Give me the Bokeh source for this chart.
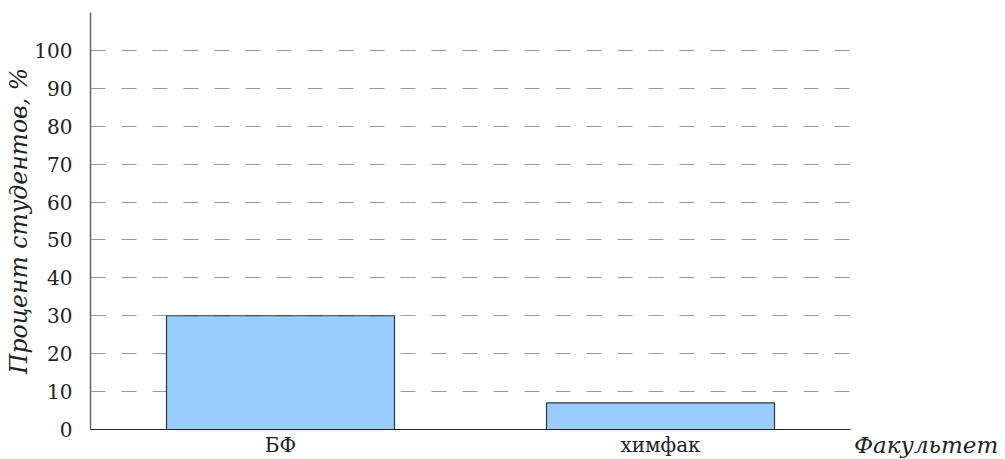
from bokeh.plotting import figure
from bokeh.models import FactorRange, Range1d, FixedTicker, Legend, LegendItem, ColumnDataSource
from bokeh.embed import file_html
from bokeh.resources import INLINE

categories = ["БФ", "химфак"]
values = [30, 7]
y_ticks = [0, 10, 20, 30, 40, 50, 60, 70, 80, 90, 100]
x_title = "Факультет"
y_title = "Процент студентов, %"

FONT = "DejaVu Serif"

p = figure(frame_width=760, frame_height=417, x_range=FactorRange(*categories, range_padding=0),
           y_range=Range1d(0, 110), output_backend="svg", toolbar_location=None,
           min_border_left=90, min_border_right=155, min_border_top=12, min_border_bottom=0)
p.outline_line_color = None

src = ColumnDataSource(dict(cat=categories, val=values))
p.vbar(x="cat", top="val", width=0.6, source=src, fill_color="#99ccff",
       line_color="#333333", line_width=1.2)

p.xgrid.grid_line_color = None
p.ygrid.ticker = FixedTicker(ticks=y_ticks[1:])
p.ygrid.grid_line_color = "#999999"
p.ygrid.grid_line_width = 1.2
p.ygrid.grid_line_dash = "15 16"

p.yaxis.ticker = FixedTicker(ticks=y_ticks)
p.yaxis.axis_line_color = "#666666"
p.yaxis.axis_line_width = 1.5
p.yaxis.major_tick_line_color = None
p.yaxis.minor_tick_line_color = None
p.yaxis.major_label_text_font = FONT
p.yaxis.major_label_text_font_size = "20px"
p.yaxis.major_label_text_color = "#222222"
p.yaxis.major_label_standoff = 12
p.yaxis.axis_label = y_title
p.yaxis.axis_label_text_font = FONT
p.yaxis.axis_label_text_font_style = "italic"
p.yaxis.axis_label_text_font_size = "23.5px"
p.yaxis.axis_label_text_color = "#222222"
p.yaxis.axis_label_standoff = -2

p.xaxis.axis_label = None
p.xaxis.axis_line_color = "#222222"
p.xaxis.axis_line_width = 1.2
p.xaxis.major_tick_line_color = None
p.xaxis.minor_tick_line_color = None
p.xaxis.major_label_text_font = FONT
p.xaxis.major_label_text_font_size = "20px"
p.xaxis.major_label_text_color = "#222222"
p.xaxis.major_label_standoff = -3

# x-axis title placed at the right end of the axis (outside the frame) via a side-panel legend
dummy = p.scatter(x=[], y=[], fill_alpha=0, line_alpha=0)
leg = Legend(items=[LegendItem(label=x_title, renderers=[dummy])], location="bottom_left",
             glyph_width=0, glyph_height=1, label_standoff=33, label_height=1,
             padding=0, margin=-29, spacing=0, border_line_color=None,
             background_fill_alpha=0, label_text_font=FONT, label_text_font_style="italic",
             label_text_font_size="23px", label_text_color="#222222")
p.add_layout(leg, "right")

open("out.html", "w").write(file_html(p, INLINE))
